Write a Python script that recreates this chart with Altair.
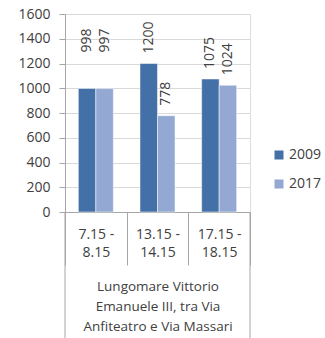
import altair as alt
import pandas as pd

# Traffic counts per time slot, two survey years
slots = ["7.15 - 8.15", "13.15 - 14.15", "17.15 - 18.15"]
years = ["2009", "2017"]
counts_2009 = [998, 1200, 1075]
counts_2017 = [997, 778, 1024]
street = ["Lungomare Vittorio", "Emanuele III, tra Via", "Anfiteatro e Via Massari"]

rows = []
for s, a, b in zip(slots, counts_2009, counts_2017):
    rows.append({"slot": s, "year": "2009", "count": a})
    rows.append({"slot": s, "year": "2017", "count": b})
df = pd.DataFrame(rows)

FONT = "Open Sans"
TXT = "#404040"
LINE = "#A6A6A6"
colors = ["#4470A8", "#93A8D2"]

W, H = 185, 198

x_enc = alt.X(
    "slot:N",
    sort=slots,
    scale=alt.Scale(paddingInner=0, paddingOuter=0),
    axis=alt.Axis(
        title=street,
        titleFont=FONT,
        titleFontSize=13.5,
        titleFontWeight="normal",
        titleColor=TXT,
        titleLineHeight=20,
        titlePadding=14,
        labelAngle=0,
        labelFont=FONT,
        labelFontSize=14,
        labelColor=TXT,
        labelLineHeight=18,
        labelPadding=-38,
        labelExpr="datum.value ? [split(datum.value, ' - ')[0] + ' -', split(datum.value, ' - ')[1]] : ''",
        tickBand="extent",
        tickSize=53,
        tickColor=LINE,
        domainColor=LINE,
        grid=False,
    ),
)

y_enc = alt.Y(
    "count:Q",
    scale=alt.Scale(domain=[0, 1600]),
    axis=alt.Axis(
        title=None,
        values=list(range(0, 1601, 200)),
        format="d",
        labelOverlap=False,
        labelFont=FONT,
        labelFontSize=14,
        labelColor=TXT,
        labelPadding=9,
        tickSize=6,
        tickColor=LINE,
        domainColor=LINE,
        gridColor="#D9D9D9",
    ),
)

bars = alt.Chart(df).mark_bar(stroke="white", strokeWidth=0.5).encode(
    x=x_enc,
    xOffset=alt.XOffset("year:N", sort=years,
                        scale=alt.Scale(paddingInner=0, paddingOuter=0.76)),
    y=y_enc,
    color=alt.Color(
        "year:N",
        sort=years,
        scale=alt.Scale(domain=years, range=colors),
        legend=alt.Legend(
            title=None,
            orient="none",
            legendX=207,
            legendY=134,
            symbolType="square",
            symbolSize=81,
            symbolStrokeWidth=0,
            labelFont=FONT,
            labelFontSize=14,
            labelColor=TXT,
            labelOffset=3,
            rowPadding=15,
        ),
    ),
)

# value labels; the first slot's pair sits higher above its bars
labels = alt.Chart(df).mark_text(
    angle=270, align="left", baseline="middle",
    dx=alt.expr("datum.slot == '7.15 - 8.15' ? 36 : 10"),
    font=FONT, fontSize=14, color=TXT,
).encode(
    x=alt.X("slot:N", sort=slots),
    xOffset=alt.XOffset("year:N", sort=years),
    y=y_enc,
    text="count:Q",
)

# outer frame lines running down past the category labels
left_edge = alt.Chart(pd.DataFrame({"slot": [slots[0]]})).mark_rule(color=LINE).encode(
    x=alt.X("slot:N", sort=slots, bandPosition=0),
    y=alt.value(H), y2=alt.value(H + 130),
)
right_edge = alt.Chart(pd.DataFrame({"slot": [slots[-1]]})).mark_rule(color=LINE).encode(
    x=alt.X("slot:N", sort=slots, bandPosition=1),
    y=alt.value(H), y2=alt.value(H + 130),
)

chart = alt.layer(bars, labels, left_edge, right_edge).properties(
    width=W, height=H,
    autosize=alt.AutoSizeParams(type="none"),
    padding={"left": 65, "top": 14, "right": 75, "bottom": 126},
).configure_view(stroke=None).configure(background="white")

chart.save("out.html", embed_options={"renderer": "svg", "actions": False})
